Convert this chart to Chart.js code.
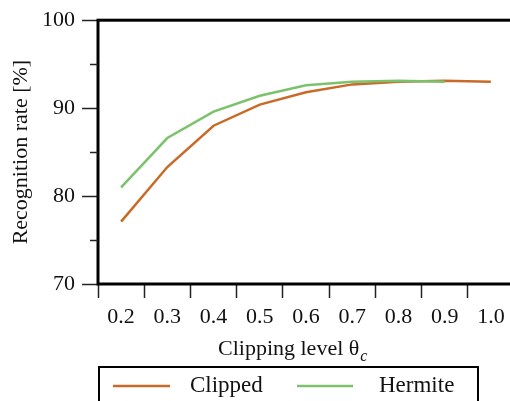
<!DOCTYPE html>
<html>
<head>
<meta charset="utf-8">
<script src="https://cdn.jsdelivr.net/npm/chart.js@4.4.1/dist/chart.umd.min.js"></script>
<style>
  html, body { margin: 0; padding: 0; background: #fff; overflow: hidden; }
  #wrap { width: 510px; height: 401px; overflow: hidden; }
</style>
</head>
<body>
<div id="wrap"><canvas id="chart" width="520" height="401"></canvas></div>
<script>
// Clipping levels (x categories)
const levels = ['0.2', '0.3', '0.4', '0.5', '0.6', '0.7', '0.8', '0.9', '1.0'];
// Recognition rate [%] per clipping level
const clipped = [77.1, 83.3, 88.0, 90.4, 91.8, 92.7, 93.0, 93.1, 93.0];
const hermite = [81.0, 86.6, 89.6, 91.4, 92.6, 93.0, 93.1, 93.0, null];
const yTicks = [70, 80, 90, 100];
const yMinorTicks = [75, 85, 95];

const serif = 'Liberation Serif';

// box frame, minor y ticks, x title with subscript and boxed legend
const decorations = {
    id: 'decorations',
    afterDraw(chart) {
        const ctx = chart.ctx;
        const area = chart.chartArea;
        const y = chart.scales.y;
        ctx.save();
        ctx.strokeStyle = '#000';
        ctx.lineWidth = 3;
        ctx.strokeRect(area.left, area.top, area.right - area.left, area.bottom - area.top);

        // minor ticks
        ctx.lineWidth = 1.5;
        ctx.strokeStyle = '#222';
        yMinorTicks.forEach(v => {
            const py = Math.round(y.getPixelForValue(v)) + 0.5;
            ctx.beginPath();
            ctx.moveTo(area.left - 8, py);
            ctx.lineTo(area.left, py);
            ctx.stroke();
        });

        // x axis title: Clipping level θ_c
        ctx.fillStyle = '#111';
        ctx.textBaseline = 'alphabetic';
        ctx.textAlign = 'left';
        ctx.font = '22px "' + serif + '"';
        const main = 'Clipping level θ';
        ctx.fillText(main, 218, 355);
        const w = ctx.measureText(main).width;
        ctx.font = 'italic 16px "' + serif + '"';
        ctx.fillText('c', 218 + w + 1, 361);

        // legend box
        ctx.lineWidth = 2;
        ctx.strokeStyle = '#000';
        ctx.strokeRect(99, 367, 379, 50);
        ctx.font = '23px "' + serif + '"';
        const items = [
            { ds: chart.data.datasets[0], x0: 113, x1: 170, tx: 190 },
            { ds: chart.data.datasets[1], x0: 297, x1: 353, tx: 379 }
        ];
        items.forEach(it => {
            ctx.strokeStyle = it.ds.borderColor;
            ctx.lineWidth = 2.5;
            ctx.beginPath();
            ctx.moveTo(it.x0, 386);
            ctx.lineTo(it.x1, 386);
            ctx.stroke();
            ctx.fillStyle = '#111';
            ctx.fillText(it.ds.label, it.tx, 392);
        });
        ctx.restore();
    }
};

new Chart(document.getElementById('chart'), {
    type: 'line',
    data: {
        labels: levels,
        datasets: [
            {
                label: 'Clipped',
                data: clipped,
                borderColor: '#c96a28',
                borderWidth: 2.5,
                pointRadius: 0,
                tension: 0,
                order: 1
            },
            {
                label: 'Hermite',
                data: hermite,
                borderColor: '#7cc26c',
                borderWidth: 2.5,
                pointRadius: 0,
                tension: 0,
                order: 0
            }
        ]
    },
    options: {
        responsive: false,
        animation: false,
        layout: { padding: { top: 19, right: 6, bottom: 37, left: 0 } },
        plugins: { legend: { display: false }, tooltip: { enabled: false } },
        scales: {
            x: {
                type: 'category',
                offset: true,
                border: { display: false },
                grid: { offset: true, drawOnChartArea: false, tickLength: 14, tickWidth: 1.5, tickColor: '#222' },
                ticks: { color: '#111', padding: 6, maxRotation: 0, font: { family: serif, size: 22 } },
                afterFit(scale) { scale.height = 80; }
            },
            y: {
                min: 70,
                max: 100,
                border: { display: false },
                grid: { drawOnChartArea: false, tickLength: 16, tickWidth: 1.5, tickColor: '#222' },
                afterBuildTicks(scale) { scale.ticks = yTicks.map(v => ({ value: v })); },
                ticks: { color: '#111', padding: 7, font: { family: serif, size: 22 } },
                title: {
                    display: true,
                    text: 'Recognition rate [%]',
                    color: '#111',
                    padding: { top: 8 },
                    font: { family: serif, size: 22 }
                },
                afterFit(scale) { scale.width = 98; }
            }
        }
    },
    plugins: [decorations]
});
</script>
</body>
</html>
